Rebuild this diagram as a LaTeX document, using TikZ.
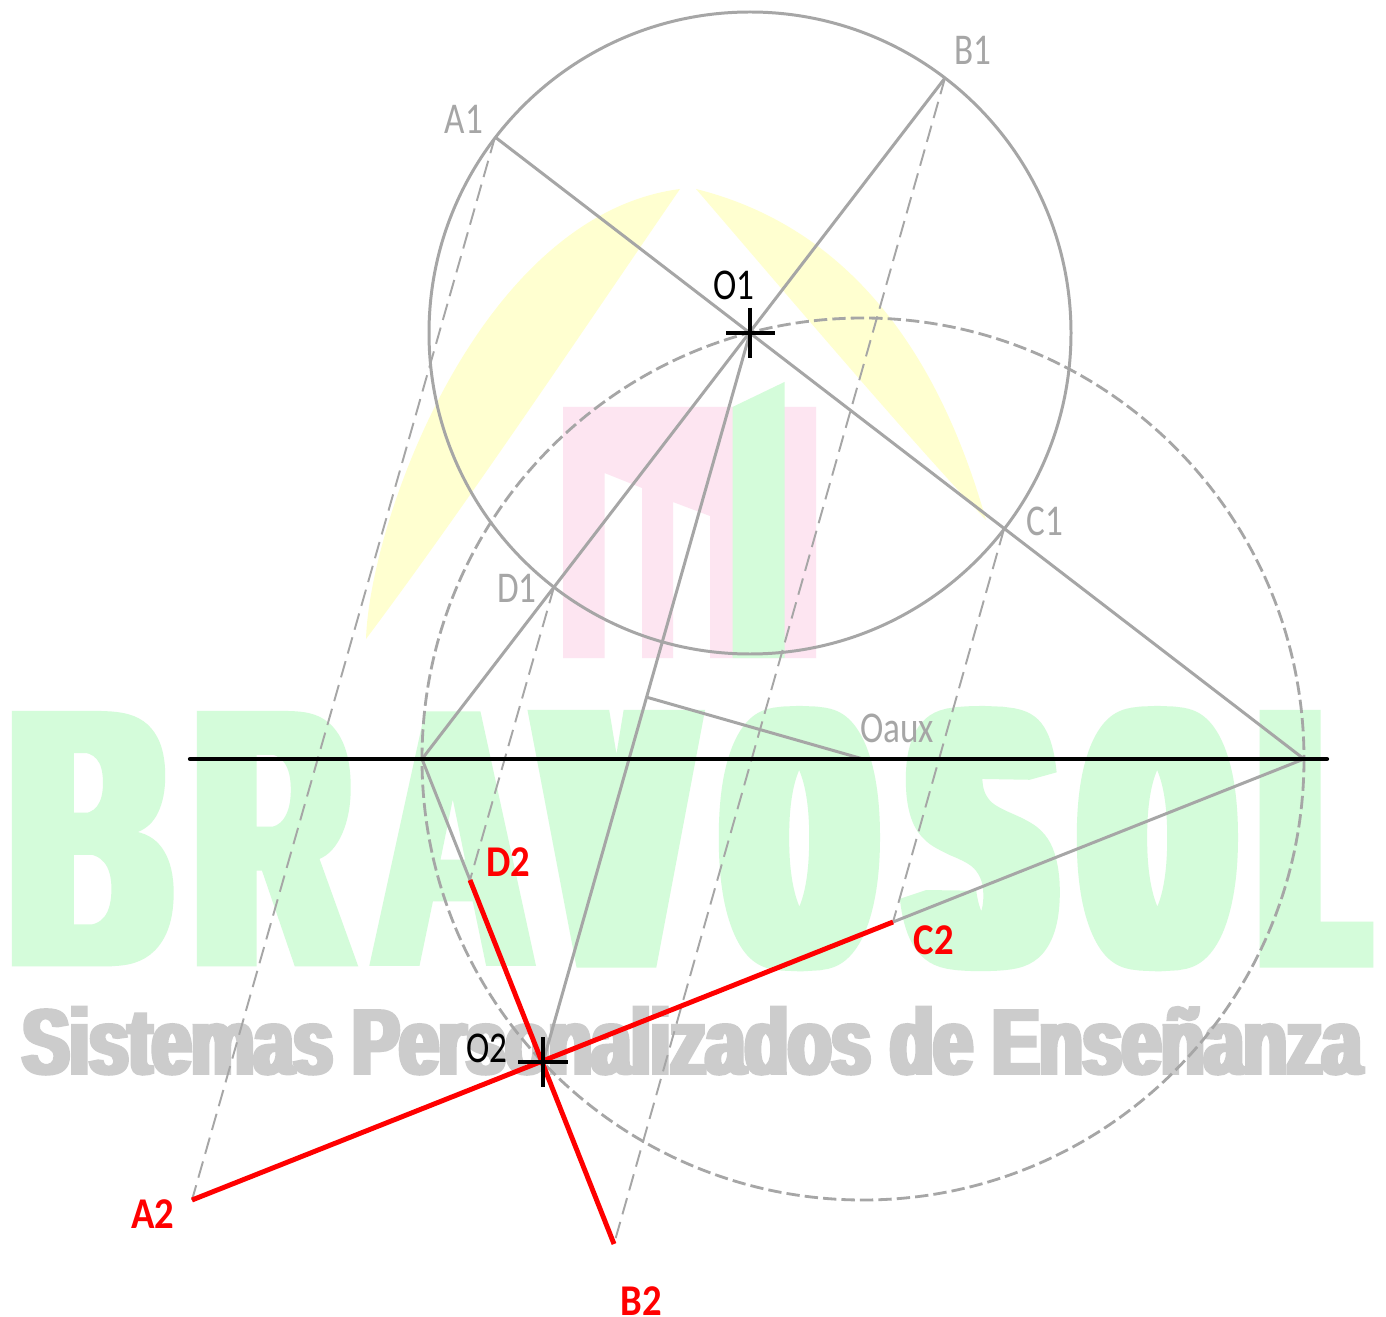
\documentclass[tikz,border=0pt]{standalone}
\usepackage{fontspec}
\usepackage{graphicx}
\setmainfont{Carlito}
\newfontfamily\wmfont[FakeBold=1.4,FakeStretch=.05]{Liberation Sans Bold}
\newfontfamily\wmthin[FakeBold=.8,FakeStretch=.055]{Liberation Sans Bold}
\newfontfamily\wmtiny[FakeBold=.5,FakeStretch=.06]{Liberation Sans Bold}
\newfontfamily\wmsub[FakeBold=1.8,FakeStretch=.1875]{Liberation Sans Bold}
\newdimen\px \px=0.02cm
\newcommand\lt[3]{\makebox[0pt][l]{\kern#1\px\scalebox{#2}[1]{#3}}}
\newcommand\lab[1]{\scalebox{.8}[1]{#1}}
\newcommand\labr[1]{\scalebox{.88}[1]{#1}}
\definecolor{gline}{HTML}{A6A6A6}
\definecolor{wmgreen}{HTML}{D4FCDA}
\definecolor{wmgray}{HTML}{CCCCCC}
\definecolor{wmpink}{HTML}{FDE5F1}
\definecolor{wmyellow}{HTML}{FFFFD0}
\tikzset{
 gsolid/.style={draw=gline,line width=1.7pt},
 gdash/.style={draw=gline,line width=1.1pt,dash pattern=on 9.6pt off 4.5pt},
 cdash/.style={draw=gline,line width=1.6pt,dash pattern=on 7.6pt off 2.9pt},
 redl/.style={draw=red,line width=2.8pt},
 blk/.style={draw=black,line width=2.4pt,line cap=round},
 glab/.style={text=gline,font=\fontsize{25pt}{25pt}\selectfont,inner sep=0pt},
 klab/.style={text=black,font=\fontsize{25pt}{25pt}\selectfont,inner sep=0pt},
 rlab/.style={text=red,font=\fontsize{25pt}{25pt}\selectfont\bfseries,inner sep=0pt},
}
\begin{document}
\begin{tikzpicture}[x=0.02cm,y=-0.02cm]
\useasboundingbox (0,0) rectangle (1386,1317);
\fill[white] (0,0) rectangle (1386,1317);
% watermark text
\node[anchor=base west,inner sep=0pt,text=wmgreen,font=\wmfont\fontsize{209pt}{209pt}\selectfont] (wmA) at (0,965)
 {\pgfsetmiterlimit{1.5}{\wmthin\fontsize{209pt}{209pt}\selectfont\lt{12}{10.6}{B}\lt{197}{10.2}{R}}{\wmtiny\fontsize{209pt}{209pt}\selectfont\lt{372}{10}{A}}\lt{552}{10.3}{V}\lt{734}{9}{O}\lt{919}{9.9}{S}\lt{1092}{9}{O}\lt{1269}{7.8}{L}};
\node[anchor=base west,inner sep=0pt,text=wmgray,font=\wmsub\fontsize{53pt}{53pt}\selectfont] (wmB) at (22,1074)
 {\pgfsetmiterlimit{1.5}\resizebox{1339\px}{\height}{Sistemas Personalizados de Enseñanza}};
% logo
\fill[wmpink] (563,407) -- (816,407) -- (816,658) -- (710,658) -- (710,516) -- (673,502) -- (673,658) -- (642,658) -- (642,488) -- (604.5,473) -- (604.5,658) -- (563,658) -- cycle;
\fill[wmgreen] (732.5,407) -- (784.5,382) -- (784.5,658) -- (732.5,658) -- cycle;
\fill[wmyellow] (366,639) .. controls (370,520) and (480,215) .. (680,189) .. controls (590,320) and (470,500) .. (366,639) -- cycle;
\fill[wmyellow] (696,189) .. controls (840,225) and (935,340) .. (986,520) .. controls (910,440) and (800,310) .. (696,189) -- cycle;
% points
\coordinate (O1) at (750,333);
\coordinate (O2) at (543,1062);
\coordinate (Oa) at (863,759);
\coordinate (M) at (646,697);
\coordinate (PL) at (422,759);
\coordinate (PR) at (1304,759);
\coordinate (A1) at (495,137);
\coordinate (B1) at (945,78);
\coordinate (C1) at (1004,529);
\coordinate (D1) at (554,587);
\coordinate (A2) at (192,1200);
\coordinate (B2) at (614,1244);
\coordinate (C2) at (893,922);
\coordinate (D2) at (470,880);
\coordinate (LL) at (190,759);
\coordinate (LR) at (1327,759);
% circles
\draw[gsolid] (O1) circle[radius=321];
\draw[cdash] (Oa) circle[radius=441];
% construction
\draw[gdash] (A1) -- (A2);
\draw[gdash] (B1) -- (B2);
\draw[gdash] (C1) -- (C2);
\draw[gdash] (D1) -- (D2);
\draw[gsolid] (A1) -- (PR);
\draw[gsolid] (B1) -- (PL);
\draw[gsolid] (O1) -- (O2);
\draw[gsolid] (M) -- (Oa);
\draw[gsolid] (PL) -- (D2);
\draw[gsolid] (PR) -- (C2);
\draw[blk] (LL) -- (LR);
\draw[redl] (D2) -- (B2);
\draw[redl] (C2) -- (A2);
% crosses
\draw[blk,line width=1.9pt,line cap=butt] (726,333) -- (775,333);
\draw[blk,line width=1.9pt,line cap=butt] (750,308) -- (750,358);
\draw[blk,line width=1.9pt,line cap=butt] (518,1062) -- (568,1062);
\draw[blk,line width=1.9pt,line cap=butt] (543,1037) -- (543,1087);
% labels
\node[glab] (lA1) at (464,119) {\lab{A1}};
\node[glab] (lB1) at (973,50) {\lab{B1}};
\node[glab] (lC1) at (1045,521) {\lab{C1}};
\node[glab] (lD1) at (517,588) {\lab{D1}};
\node[glab] (lOa) at (897,728) {\lab{Oaux}};
\node[klab] (lO1) at (734,285) {\lab{O1}};
\node[klab] (lO2) at (487,1048) {\lab{O2}};
\node[rlab] (lA2) at (153,1214) {\labr{A2}};
\node[rlab] (lB2) at (641,1301) {\labr{B2}};
\node[rlab] (lC2) at (934,940) {\labr{C2}};
\node[rlab] (lD2) at (508,862) {\labr{D2}};
\end{tikzpicture}
\end{document}
